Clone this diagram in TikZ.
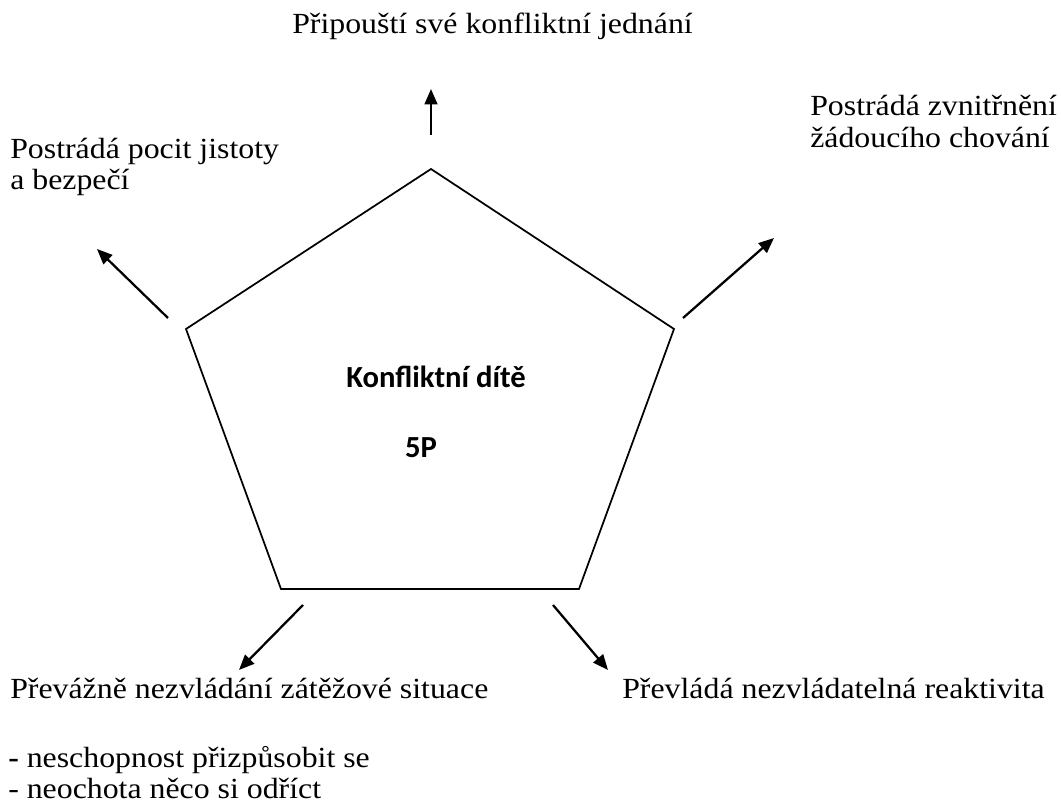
\documentclass[tikz,border=0pt]{standalone}
\usepackage{fontspec}
\setmainfont[FakeStretch=1.09]{Liberation Serif}
\newfontfamily\calib{Carlito}
\usetikzlibrary{arrows.meta}
\begin{document}
\begin{tikzpicture}[x=0.75pt,y=-0.75pt,
  lbl/.style={inner sep=0pt,anchor=base west,font=\fontsize{21.9pt}{24pt}\selectfont},
  ctr/.style={inner sep=0pt,anchor=base,font=\calib\bfseries\fontsize{23pt}{27pt}\selectfont},
  arr/.style={line width=1.7pt,-{Triangle[length=11.5pt,width=9.5pt]}},
  pent/.style={line width=1.3pt,line join=miter}]
\useasboundingbox (0,0) rectangle (1061,806);
% pentagon
\coordinate (pt) at (431,169);
\coordinate (pr) at (674,329);
\coordinate (pbr) at (579,589);
\coordinate (pbl) at (281,589);
\coordinate (pl) at (186,329);
\draw[pent] (pt) -- (pr) -- (pbr) -- (pbl) -- (pl) -- cycle;
% centre text
\node[ctr] (title) at (436,387) {Konfliktní dítě};
\node[ctr] (fivep) at (421,457) {5P};
% arrows
\coordinate (a1s) at (431,135); \coordinate (a1e) at (431,89);
\coordinate (a2s) at (168,318); \coordinate (a2e) at (97,249);
\coordinate (a3s) at (683,318); \coordinate (a3e) at (774,238);
\coordinate (a4s) at (303,605); \coordinate (a4e) at (239,670);
\coordinate (a5s) at (553,605); \coordinate (a5e) at (608,670);
\draw[arr] (a1s) -- (a1e);
\draw[arr] (a2s) -- (a2e);
\draw[arr] (a3s) -- (a3e);
\draw[arr] (a4s) -- (a4e);
\draw[arr] (a5s) -- (a5e);
% labels
\node[lbl] (ttop) at (292,34) {Připouští své konfliktní jednání};
\node[lbl] (tl1) at (10,159) {Postrádá pocit jistoty};
\node[lbl] (tl2) at (10,190) {a bezpečí};
\node[lbl] (tr1) at (810,116) {Postrádá zvnitřnění};
\node[lbl] (tr2) at (810,148) {žádoucího chování};
\node[lbl] (tbl) at (10,698) {Převážně nezvládání zátěžové situace};
\node[lbl] (tbr) at (622,698) {Převládá nezvládatelná reaktivita};
\node[lbl] (li1) at (8,767) {\textbf{-} neschopnost přizpůsobit se};
\node[lbl] (li2) at (8,798) {- neochota něco si odříct};
\end{tikzpicture}
\end{document}
